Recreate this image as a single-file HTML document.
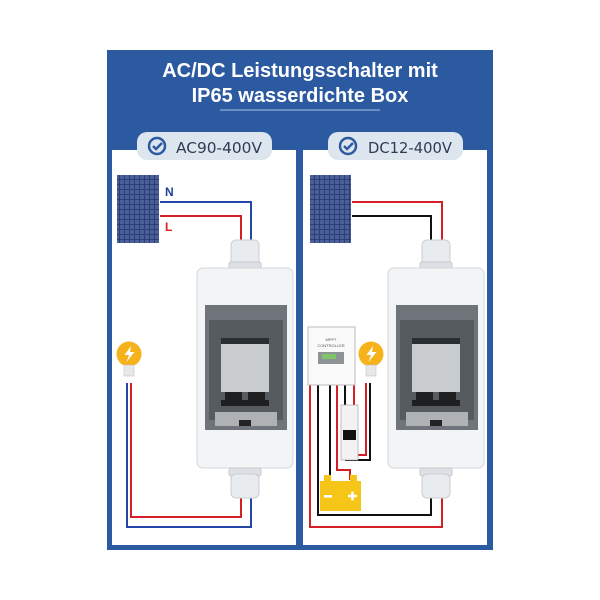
<!DOCTYPE html>
<html><head><meta charset="utf-8"><style>
html,body{margin:0;padding:0;background:#fff;width:600px;height:600px;overflow:hidden}
svg{display:block}
</style></head><body>
<svg width="600" height="600" viewBox="0 0 600 600" xmlns="http://www.w3.org/2000/svg">
<defs>
<pattern id="cells" width="5" height="5" patternUnits="userSpaceOnUse">
<rect width="5" height="5" fill="#2c3f75"/><rect width="4" height="4" fill="#4a5f9a"/>
</pattern>
<g id="box">
<rect x="-14" y="-28" width="28" height="26" rx="5" fill="#e9ecef" stroke="#c9ced3"/>
<rect x="-16" y="-6" width="32" height="8" rx="2" fill="#dde1e5" stroke="#c5cacf"/>
<rect x="0" y="0" width="96" height="200" rx="6" fill="#f2f4f6" stroke="#d3d7db" transform="translate(-48,0)"/>
<rect x="-40" y="37" width="82" height="125" fill="#6e7479"/>
<rect x="-36" y="52" width="74" height="100" fill="#565b60"/>
<rect x="-24" y="70" width="48" height="54" fill="#c9ccce"/>
<rect x="-24" y="70" width="48" height="6" fill="#2b2e31"/>
<rect x="-20" y="124" width="17" height="12" fill="#1e1f21"/>
<rect x="3" y="124" width="17" height="12" fill="#1e1f21"/>
<rect x="-24" y="132" width="48" height="6" fill="#1e1f21"/>
<rect x="-30" y="144" width="62" height="14" fill="#aeb2b5"/>
<rect x="-6" y="152" width="12" height="6" fill="#222"/>
<rect x="-16" y="200" width="32" height="8" rx="2" fill="#dde1e5" stroke="#c5cacf"/>
<rect x="-14" y="206" width="28" height="24" rx="5" fill="#e9ecef" stroke="#c9ced3"/>
</g>
<g id="bulb">
<circle cx="0" cy="0" r="12.5" fill="#f6b21b"/>
<path d="M2,-8 L-4.5,1 L0,1 L-2.5,8 L5.5,-2 L1,-2 Z" fill="#fff"/>
<rect x="-5" y="11" width="10" height="11" fill="#e8e8e8" stroke="#bbb" stroke-width="0.5"/>
</g>
</defs>
<rect x="107" y="50" width="386" height="500" fill="#2c5aa0"/>
<text x="300" y="77" fill="#fff" font-family="Liberation Sans, sans-serif" font-weight="bold" font-size="20" text-anchor="middle">AC/DC Leistungsschalter mit</text>
<text x="300" y="102" fill="#fff" font-family="Liberation Sans, sans-serif" font-weight="bold" font-size="20" text-anchor="middle">IP65 wasserdichte Box</text>
<line x1="220" y1="110" x2="380" y2="110" stroke="#a9c1e4" stroke-width="1"/>
<rect x="112" y="150" width="184" height="395" fill="#fff"/>
<rect x="303" y="150" width="184" height="395" fill="#fff"/>
<rect x="137" y="132" width="135" height="28" rx="10" fill="#dde6ef"/>
<rect x="328" y="132" width="135" height="28" rx="10" fill="#dde6ef"/>
<circle cx="157" cy="146" r="8" fill="none" stroke="#2c5aa0" stroke-width="2.5"/>
<path d="M153,146 l3,3 l6,-6" fill="none" stroke="#2c5aa0" stroke-width="2.5"/>
<circle cx="348" cy="146" r="8" fill="none" stroke="#2c5aa0" stroke-width="2.5"/>
<path d="M344,146 l3,3 l6,-6" fill="none" stroke="#2c5aa0" stroke-width="2.5"/>
<text x="176" y="153" fill="#2d3b55" font-family="DejaVu Sans, sans-serif" font-size="15" textLength="86" lengthAdjust="spacingAndGlyphs">AC90-400V</text>
<text x="368" y="153" fill="#2d3b55" font-family="DejaVu Sans, sans-serif" font-size="15" textLength="84" lengthAdjust="spacingAndGlyphs">DC12-400V</text>
<!-- left -->
<rect x="117" y="175" width="42" height="68" fill="url(#cells)"/>
<text x="165" y="196" fill="#1f3f9e" font-family="Liberation Sans, sans-serif" font-weight="bold" font-size="12">N</text>
<text x="165" y="231" fill="#d22" font-family="Liberation Sans, sans-serif" font-weight="bold" font-size="12">L</text>
<g fill="none" stroke-width="2">
<path d="M160,202 H251 V245" stroke="#2446a8"/>
<path d="M160,216 H241 V245" stroke="#d41f26"/>
<path d="M131,383 V517 H241 V490" stroke="#d41f26"/>
<path d="M127,383 V527 H251 V490" stroke="#2446a8"/>
</g>
<g transform="translate(245,268)"><use href="#box"/></g>
<g transform="translate(129,354)"><use href="#bulb"/></g>
<!-- right -->
<rect x="310" y="175" width="41" height="68" fill="url(#cells)"/>
<g fill="none" stroke-width="2">
<path d="M352,202 H442 V245" stroke="#d41f26"/>
<path d="M352,216 H431 V245" stroke="#111"/>
<path d="M431,490 V515 H318 V385" stroke="#111"/>
<path d="M442,490 V527 H310 V385" stroke="#d41f26"/>
<path d="M330,385 V480" stroke="#111"/>
<path d="M337,385 V470 H350 V480" stroke="#d41f26"/>
<path d="M345,385 V405 M345,460 V460 H370 V383" stroke="#111"/>
<path d="M354,385 V405 M354,455 H366 V383" stroke="#d41f26"/>
</g>
<rect x="308" y="327" width="47" height="58" fill="#fafafa" stroke="#bbb"/>
<text x="331" y="341" font-family="Liberation Sans, sans-serif" font-size="4" fill="#555" text-anchor="middle">MPPT</text>
<text x="331" y="347" font-family="Liberation Sans, sans-serif" font-size="4" fill="#555" text-anchor="middle">CONTROLLER</text>
<rect x="318" y="352" width="26" height="12" fill="#8e9396"/>
<rect x="322" y="354" width="14" height="5" fill="#7ec66a"/>
<rect x="341" y="405" width="17" height="55" fill="#f2f2f2" stroke="#aaa" stroke-width="0.7"/>
<rect x="343" y="430" width="13" height="10" fill="#111"/>
<rect x="320" y="481" width="41" height="30" fill="#f5c518"/>
<rect x="324" y="475" width="7" height="6" fill="#f5c518"/><rect x="350" y="475" width="7" height="6" fill="#f5c518"/>
<rect x="324" y="495" width="8" height="2.5" fill="#fff"/>
<path d="M348,496 h9 M352.5,491.5 v9" stroke="#fff" stroke-width="2.5"/>
<g transform="translate(436,268)"><use href="#box"/></g>
<g transform="translate(371,354)"><use href="#bulb"/></g>
</svg>
</body></html>
